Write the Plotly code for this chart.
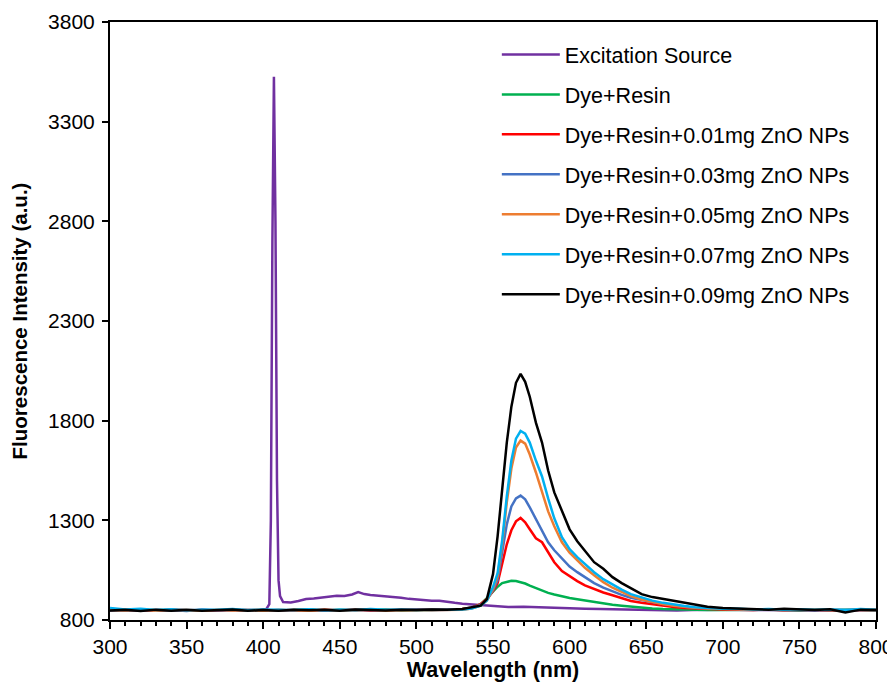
import plotly.graph_objects as go

# wavelength grid (nm) shared by the emission spectra
wl = list(range(300, 530, 10)) + [530, 536, 542, 546, 550, 553, 556, 559, 562, 565, 568, 571, 574, 578,
                                  582, 586, 590, 595, 600, 605, 610, 616, 622, 628, 634, 640, 647, 654,
                                  661, 668, 675, 682, 690, 700] + list(range(710, 810, 10))

dye_resin = [850, 847, 852, 849, 851, 846, 850, 848, 852, 849, 851, 847, 850, 852, 848, 851, 849, 850, 853, 848, 851, 850, 852,
             855, 862, 880, 910, 945, 967, 985, 993, 997, 996, 990, 983, 972, 960, 945, 936, 928, 918, 910, 904, 898, 888,
             882, 877, 872, 867, 862, 858, 855, 853, 852, 851, 850, 850,
             851, 849, 852, 850, 848, 851, 849, 852, 850, 849]
zno_001 = [851, 848, 850, 847, 853, 849, 850, 846, 851, 849, 852, 848, 850, 847, 851, 849, 852, 848, 850, 851, 849, 852, 853,
           855, 862, 880, 905, 945, 985, 1090, 1180, 1250, 1295, 1312, 1290, 1255, 1210, 1190, 1140, 1090, 1045, 1018, 995,
           974, 955, 938, 924, 910, 895, 887, 880, 870, 865, 860, 857, 855, 853,
           852, 850, 853, 849, 851, 850, 852, 848, 851, 850]
zno_003 = [849, 846, 851, 848, 850, 845, 852, 848, 849, 851, 847, 850, 848, 852, 846, 850, 849, 851, 848, 850, 852, 849, 851,
           853, 860, 875, 900, 950, 1000, 1150, 1280, 1370, 1410, 1424, 1405, 1365, 1305, 1250, 1190, 1150, 1108, 1068, 1040,
           1013, 985, 962, 942, 926, 912, 900, 890, 880, 872, 866, 862, 858, 856,
           854, 851, 853, 850, 852, 849, 851, 850, 853, 850]
zno_005 = [850, 848, 853, 846, 851, 849, 847, 852, 848, 850, 846, 851, 849, 847, 852, 848, 850, 853, 847, 850, 849, 851, 850,
           852, 858, 872, 898, 955, 1020, 1180, 1390, 1560, 1665, 1700, 1685, 1630, 1540, 1445, 1345, 1270, 1190, 1138, 1098,
           1062, 1025, 990, 962, 940, 920, 903, 890, 880, 872, 866, 861, 858, 856,
           855, 852, 854, 850, 853, 851, 852, 849, 854, 851]
zno_007 = [860, 853, 856, 850, 854, 849, 852, 851, 855, 849, 853, 851, 850, 854, 849, 852, 850, 855, 851, 853, 850, 852, 854,
           853, 858, 872, 898, 965, 1035, 1200, 1420, 1600, 1710, 1748, 1735, 1690, 1600, 1520, 1410, 1310, 1215, 1155, 1115,
           1080, 1040, 1005, 978, 952, 930, 912, 897, 886, 877, 870, 864, 860, 857,
           856, 853, 855, 852, 854, 851, 853, 850, 855, 852]
zno_009 = [848, 851, 845, 852, 846, 851, 847, 849, 853, 847, 850, 846, 852, 849, 851, 847, 853, 850, 848, 852, 850, 853, 851,
           855, 862, 872, 905, 1030, 1220, 1450, 1690, 1870, 1990, 2035, 1995, 1920, 1790, 1690, 1550, 1440, 1345, 1255, 1195,
           1145, 1090, 1057, 1015, 985, 958, 930, 915, 905, 898, 888, 878, 866, 860,
           857, 855, 852, 856, 853, 850, 854, 838, 852, 850]

# excitation source spectrum
wl_src = [300, 310, 320, 330, 340, 350, 360, 370, 380, 390, 398, 402, 404, 405, 406, 407, 408, 409, 410, 411,
          413, 418, 423, 428, 433, 438, 443, 448, 453, 458, 462, 466, 470, 475, 480, 485, 490, 495, 500, 505,
          510, 515, 520, 525, 530, 535, 540, 545, 550, 555, 560, 570, 580, 590, 600, 610, 620, 630, 640, 650,
          660, 670, 680, 690, 700, 720, 740, 760, 780, 800]
src = [847, 849, 846, 850, 848, 847, 850, 849, 846, 848, 850, 855, 880, 1300, 2700, 3525, 2800, 1500, 1000, 920,
       890, 888, 895, 905, 908, 912, 918, 922, 920, 928, 940, 930, 925, 922, 918, 915, 912, 906, 903, 900,
       896, 897, 890, 886, 882, 879, 876, 874, 870, 866, 865, 866, 863, 861, 858, 856, 855, 853, 851, 849,
       850, 848, 850, 849, 851, 850, 849, 851, 848, 850]

names = ['Excitation Source', 'Dye+Resin', 'Dye+Resin+0.01mg ZnO NPs', 'Dye+Resin+0.03mg ZnO NPs',
         'Dye+Resin+0.05mg ZnO NPs', 'Dye+Resin+0.07mg ZnO NPs', 'Dye+Resin+0.09mg ZnO NPs']
colors = ['#7030A0', '#00B050', '#FF0000', '#4472C4', '#ED7D31', '#00B0F0', '#000000']
xs = [wl_src, wl, wl, wl, wl, wl, wl]
ys = [src, dye_resin, zno_001, zno_003, zno_005, zno_007, zno_009]

font = 'Liberation Sans, Arial, sans-serif'

fig = go.Figure()
for x, y, name, color in zip(xs, ys, names, colors):
    fig.add_trace(go.Scatter(x=x, y=y, mode='lines', name=name, legendgroup=name,
                             line=dict(color=color, width=2.5)))

# the page body adds an 8px offset, so the figure is 8px smaller than the window
fig.update_layout(
    width=887, height=674,
    margin=dict(l=102, r=19, t=14, b=62),
    plot_bgcolor='white', paper_bgcolor='white',
    font=dict(family=font, size=21, color='black'),
    showlegend=True,
    legend=dict(x=0.505, y=0.98, xanchor='left', yanchor='top', bgcolor='rgba(0,0,0,0)',
                font=dict(size=21.5), tracegroupgap=9, itemwidth=58),
)

fig.update_xaxes(
    range=[300, 800], tick0=300, dtick=50, ticks='outside', ticklen=7, tickwidth=1.5, tickcolor='black',
    minor=dict(dtick=10, ticks='outside', ticklen=4, tickwidth=1.5, tickcolor='black'),
    showline=True, linewidth=2, linecolor='black', mirror=True, showgrid=False, zeroline=False,
    automargin=False,
    title=dict(text='<b>Wavelength (nm)</b>', font=dict(size=21.5), standoff=15),
)
fig.update_yaxes(
    range=[800, 3800], tick0=800, dtick=500, ticks='outside', ticklen=6, tickwidth=1.5, tickcolor='black',
    showline=True, linewidth=2, linecolor='black', mirror=True, showgrid=False, zeroline=False,
    automargin=False, ticklabelstandoff=3,
    title=dict(text='<b>Fluorescence Intensity (a.u.)</b>', font=dict(size=20.5), standoff=17),
)

fig.write_html("out.html")
